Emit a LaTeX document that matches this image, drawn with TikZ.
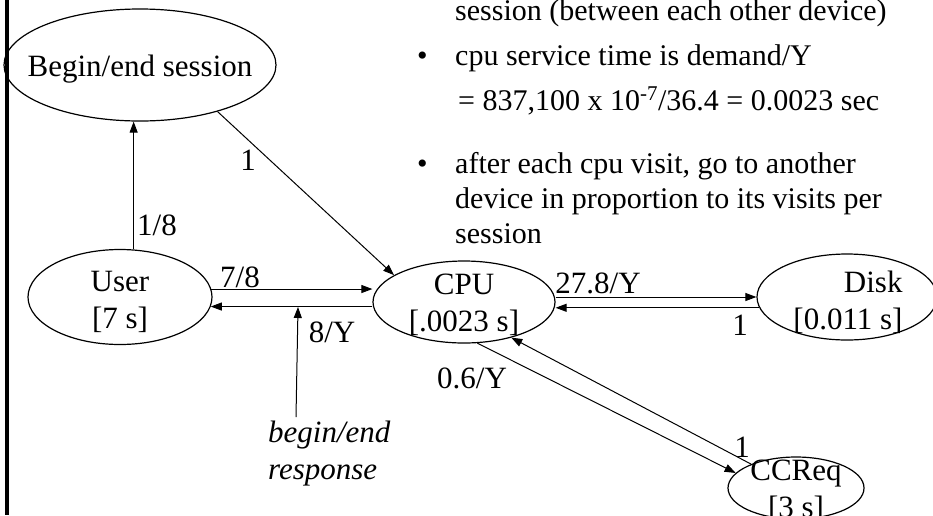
\documentclass[tikz,border=0pt]{standalone}
\usepackage{fontspec}
\setmainfont{Liberation Serif}
\usetikzlibrary{shapes.geometric,arrows.meta}
\newcommand\diagfont{\fontsize{31}{37}\selectfont}
\newcommand\notefont{\fontsize{30}{35}\selectfont}
\tikzset{
  stn/.style={draw, ellipse, line width=1.2pt, inner sep=0pt},
  stntxt/.style={align=center, inner sep=0pt},
  flow/.style={-{Triangle[length=11pt,width=8pt]}, line width=1pt},
  lbl/.style={inner sep=0pt},
  note/.style={anchor=base west, inner sep=0pt, font=\notefont},
}
\begin{document}
\begin{tikzpicture}[x=1pt, y=-1pt, font=\diagfont]
                \useasboundingbox (0,0) rectangle (933,515);
                \draw [line width=4pt] (7,0) -- (7,515);
                % stations
                \node [stn, minimum width=272pt, minimum height=112pt] (sess) at (140,65) {};
                \node [stn, minimum width=184pt, minimum height=95pt] (user) at (120,297) {};
                \node [stn, minimum width=182pt, minimum height=82pt] (cpu) at (464,302) {};
                \node [stn, minimum width=180pt, minimum height=86pt] (disk) at (847,297) {};
                \node [stn, minimum width=136pt, minimum height=62pt] (ccreq) at (796,488) {};
                \node [stntxt, yshift=-4pt] (sesstxt) at (sess) {Begin/end session};
                \node [stntxt, yshift=-5pt] (usertxt) at (user) {User\\{}[7 s]};
                \node [stntxt, yshift=-3pt] (cputxt) at (cpu) {CPU\\{}[.0023 s]};
                \node [stntxt, align=right, xshift=1pt, yshift=-5pt] (disktxt) at (disk) {Disk\\{}[0.011 s]};
                \node [stntxt, yshift=-3pt] (ccreqtxt) at (ccreq) {CCReq\\{}[3 s]};
                % flows
                \draw [flow] (user.74) -- (user.74 |- sess.south);
                \draw [flow] (sess.-31) -- (cpu.159);
                \draw [flow] (user.5) -- (user.5 -| cpu.west);
                \draw [flow] (cpu.west |- user.-6) -- (user.-6);
                \draw [flow] (cpu.east |- disk.west) -- (disk.west);
                \draw [flow] (disk.187) -- (disk.187 -| cpu.east);
                \draw [flow] (cpu.-72) -- (ccreq.166);
                \draw [flow] (ccreq.152) -- (cpu.-37);
                \coordinate (respfoot) at (296,417);
                \coordinate (resphit) at (298,307);
                \draw [flow] (respfoot) -- (resphit);
                % flow labels
                \node [lbl] (l18) at (157,225) {1/8};
                \node [lbl] (l1s) at (248,160) {1};
                \node [lbl] (l78) at (240,277) {7/8};
                \node [lbl] (l8y) at (332,332) {8/Y};
                \node [lbl] (l278) at (598,283) {27.8/Y};
                \node [lbl] (l1d) at (740,325) {1};
                \node [lbl] (l06) at (472,378) {0.6/Y};
                \node [lbl] (l1c) at (742,447) {1};
                \node [lbl, align=left, anchor=west, font=\diagfont\itshape] (resp) at (268,454) {begin/end\\response};
                % notes
                \node [note] (n0) at (455,20) {session (between each other device)};
                \node [note] (b1) at (417,65) {\textbullet};
                \node [note] (n1) at (455,65) {cpu service time is demand/Y};
                \node [note] (n2) at (458,110) {= 837,100 x 10\textsuperscript{-7}/36.4 = 0.0023 sec};
                \node [note] (b2) at (417,173) {\textbullet};
                \node [note] (n3) at (455,173) {after each cpu visit, go to another};
                \node [note] (n4) at (455,208) {device in proportion to its visits per};
                \node [note] (n5) at (455,243) {session};
            \end{tikzpicture}
\end{document}
